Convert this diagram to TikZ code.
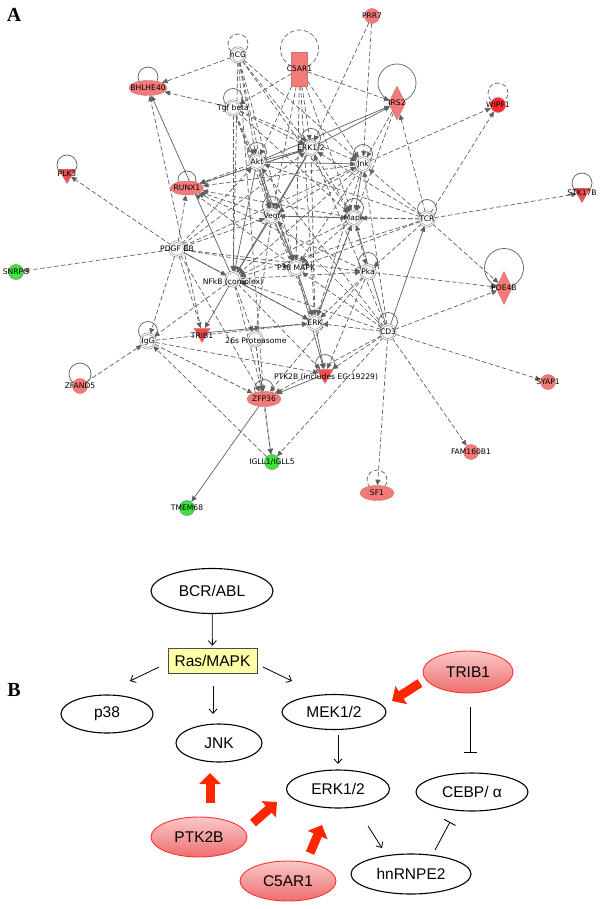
\documentclass[tikz,border=0pt]{standalone}
\usepackage{fontspec}
\setmainfont{Liberation Sans}
\newfontfamily\dvs{DejaVu Sans}
\newfontfamily\tms{Liberation Serif}
\usetikzlibrary{arrows.meta,shapes.geometric,calc}
\pgfdeclarelayer{bg}
\pgfsetlayers{bg,main}
\definecolor{salmon}{RGB}{244,122,122}
\definecolor{salmonedge}{RGB}{205,115,115}
\definecolor{trired}{RGB}{240,78,78}
\definecolor{brightred}{RGB}{255,45,45}
\definecolor{ipagreen}{RGB}{60,228,60}
\definecolor{edgegray}{RGB}{96,96,96}
\definecolor{hubgray}{RGB}{115,115,115}
\definecolor{boxyellow}{RGB}{255,255,165}
\definecolor{arrowred}{RGB}{255,38,0}
\definecolor{pinktop}{RGB}{250,200,200}
\definecolor{pinkbot}{RGB}{238,110,110}
\definecolor{pinkedge}{RGB}{255,50,50}
\begin{document}
\begin{tikzpicture}[x=1pt,y=-1pt,
  hub/.style={circle, draw=hubgray, line width=0.5pt, double=white, double distance=1.2pt, fill=white, minimum size=14.5pt, inner sep=0pt},
  lbl/.style={font=\dvs\fontsize{7.6}{8}\selectfont, inner sep=0pt, text=black},
  redell/.style={ellipse, fill=salmon, draw=salmonedge, line width=0.4pt, inner sep=0pt},
  redcirc/.style={circle, fill=salmon, draw=salmonedge, line width=0.4pt, minimum size=15pt, inner sep=0pt},
  grncirc/.style={circle, fill=ipagreen, draw=hubgray, line width=0.4pt, minimum size=15pt, inner sep=0pt},
  redtri/.style={regular polygon, regular polygon sides=3, shape border rotate=180, fill=trired, draw=salmonedge, line width=0.4pt, minimum size=19pt, inner sep=0pt},
  reddia/.style={diamond, fill=salmon, draw=salmonedge, line width=0.4pt, minimum width=17pt, minimum height=34pt, inner sep=0pt},
  ed/.style={edgegray, line width=0.7pt, dash pattern=on 4.5pt off 2.5pt, -{Triangle[length=5.5pt,width=5pt]}},
  es/.style={edgegray, line width=0.7pt, -{Triangle[length=5.5pt,width=5pt]}},
  lpd/.style={edgegray, line width=0.7pt, dash pattern=on 4.5pt off 2.5pt},
  lps/.style={edgegray, line width=0.7pt},
  bfont/.style={font=\fontsize{15.5}{17}\selectfont},
  bell/.style={ellipse, draw=black, line width=1.1pt, inner sep=0pt, fill=white, bfont},
  rell/.style={ellipse, draw=pinkedge, line width=0.9pt, top color=pinktop, bottom color=pinkbot, inner sep=0pt, bfont},
  thinarr/.style={black, line width=0.8pt, -{Straight Barb[length=4.5pt,width=8pt]}},
  inh/.style={black, line width=0.8pt, -{Bar[width=13pt,line width=0.9pt]}},
  bigarr/.style={arrowred, line width=9pt, -{Triangle[length=11pt,width=21pt]}},
  panel/.style={font=\tms\bfseries\fontsize{20}{22}\selectfont, inner sep=0pt}
]
\useasboundingbox (0,0) rectangle (600,909);
\begin{pgfonlayer}{bg}
\fill[white] (0,0) rectangle (600,909);
\end{pgfonlayer}

% ---------- Panel A ----------
\node[panel] (labA) at (14,15) {A};

\foreach \n/\x/\y in {hcg/238/55, tgf/233/108, akt/257/162, erk12/311/148, jnk/363/164, vegf/272/216, mapk/354/218, tcr/427/219, pdgf/177/249, nfkb/233/279, p38/296/268, pka/368/272, erk/315/323, cd3/388/332, prot/255/339, igg/148/341}
  \node[hub] (\n) at (\x,\y) {};

\node[rectangle, fill=salmon, draw=salmonedge, line width=0.4pt, minimum width=16pt, minimum height=34pt, inner sep=0pt] (c5ar1) at (299.5,69) {};
\node[redcirc] (prr7) at (372,16) {};
\node[redell, minimum width=38pt, minimum height=15pt] (bhlhe) at (148,88) {};
\node[reddia] (irs2) at (397,103) {};
\node[circle, fill=brightred, draw=salmonedge, line width=0.4pt, minimum size=15pt, inner sep=0pt] (wipf1) at (498,105) {};
\node[redtri] (plk3) at (67,174) {};
\node[redell, minimum width=33pt, minimum height=14pt] (runx1) at (187,188) {};
\node[redtri] (stk17b) at (582,193) {};
\node[grncirc] (snrpg) at (16,272) {};
\node[reddia, minimum width=16pt, minimum height=33pt] (pde4b) at (504,288) {};
\node[redtri] (trib1) at (202,333) {};
\node[redtri] (ptk2b) at (325,374) {};
\node[redell, minimum width=34pt, minimum height=15pt] (zfp36) at (264,399) {};
\node[redcirc] (zfand5) at (80,386) {};
\node[redcirc] (syap1) at (548,382) {};
\node[redcirc] (fam) at (471,452) {};
\node[grncirc] (igll) at (272,462) {};
\node[redell, minimum width=34pt, minimum height=15pt] (sf1) at (377,493) {};
\node[grncirc] (tmem) at (187,508) {};

\begin{pgfonlayer}{bg}
% self loops
\draw[lpd] ([yshift=11pt]hcg.center) circle (10pt);
\foreach \n in {tgf, akt, jnk, vegf, mapk, tcr, pka, igg, cd3, erk12, zfp36, ptk2b}
  \draw[lps] ([yshift=10pt]\n.center) circle (9.5pt);
\draw[lpd] ([yshift=20pt]c5ar1.center) circle (19pt);
\draw[lps] ([yshift=11pt]bhlhe.center) circle (10pt);
\draw[lps] ([yshift=20pt]irs2.center) circle (19pt);
\draw[lpd] ([yshift=12pt]wipf1.center) circle (10pt);
\draw[lps] ([yshift=9pt]plk3.center) circle (10pt);
\draw[lps] ([yshift=8pt]runx1.center) circle (9pt);
\draw[lps] ([yshift=10pt]stk17b.center) circle (10pt);
\draw[lps] ([yshift=20pt]pde4b.center) circle (19.5pt);
\draw[lps] ([yshift=12pt]zfand5.center) circle (11pt);
\draw[lpd] ([yshift=13pt]sf1.center) circle (10pt);

% dashed edges
\foreach \a/\b in {hcg/bhlhe, tgf/bhlhe, c5ar1/tgf, c5ar1/irs2, prr7/erk12, prr7/jnk, irs2/jnk, irs2/mapk, tcr/irs2, jnk/wipf1, tcr/wipf1, pdgf/plk3, pdgf/snrpg, tcr/stk17b, tcr/pde4b, pka/pde4b, cd3/pde4b, cd3/syap1, cd3/fam, cd3/sf1, cd3/igll, zfp36/igll, zfand5/igg, igg/ptk2b, igg/zfp36, igll/igg, cd3/ptk2b, cd3/erk,
 hcg/akt, hcg/erk12, hcg/vegf, hcg/jnk, hcg/p38, hcg/nfkb, hcg/zfp36, hcg/mapk,
 tgf/akt, tgf/vegf, tgf/erk12, tgf/p38, tgf/nfkb, tgf/mapk, tgf/jnk,
 c5ar1/akt, c5ar1/erk12, c5ar1/jnk, c5ar1/vegf, c5ar1/mapk, c5ar1/p38, c5ar1/erk,
 trib1/bhlhe,
 akt/runx1, erk12/runx1, jnk/runx1, vegf/runx1, mapk/runx1, pka/runx1, p38/runx1,
 erk12/mapk, erk12/erk, jnk/vegf, jnk/p38, jnk/nfkb, jnk/erk,
 tcr/jnk, tcr/akt, tcr/erk12, tcr/vegf, tcr/mapk, tcr/nfkb, tcr/p38, tcr/pka,
 pdgf/akt, pdgf/vegf, pdgf/erk12, pdgf/runx1, pdgf/p38, pdgf/pka, pdgf/erk, pdgf/igg, pdgf/trib1, pdgf/zfp36, pdgf/jnk,
 nfkb/pka, nfkb/igg, nfkb/zfp36, nfkb/ptk2b, nfkb/prot,
 mapk/p38, mapk/pka, mapk/erk, mapk/nfkb,
 pka/erk, pka/ptk2b, pka/zfp36,
 cd3/akt, cd3/vegf, cd3/erk12, cd3/nfkb, cd3/jnk, cd3/zfp36, cd3/p38,
 prot/zfp36, prot/igll, igg/erk, vegf/erk, vegf/prot}
  \draw[ed] (\a) -- (\b);

% solid edges
\foreach \a/\b in {nfkb/bhlhe, akt/irs2, erk12/irs2, akt/erk12, akt/jnk, akt/vegf, akt/nfkb, akt/p38, erk12/nfkb, jnk/mapk, vegf/mapk, vegf/p38, vegf/nfkb, erk12/vegf, p38/erk, p38/ptk2b, nfkb/erk, nfkb/trib1, trib1/erk, erk/ptk2b, ptk2b/zfp36, zfp36/tmem, cd3/tcr, runx1/erk12, pdgf/nfkb, erk/mapk, cd3/mapk}
  \draw[es] (\a) -- (\b);
\end{pgfonlayer}

% labels of panel A
\foreach \n/\t in {hcg/hCG, tgf/Tgf beta, akt/Akt, jnk/Jnk, vegf/Vegf, mapk/Mapk, tcr/TCR, pdgf/PDGF BB, p38/P38 MAPK, pka/Pka, erk/ERK, cd3/CD3, igg/IgG, c5ar1/C5AR1, prr7/PRR7, bhlhe/BHLHE40, irs2/IRS2, wipf1/WIPF1, plk3/PLK3, runx1/RUNX1, stk17b/STK17B, snrpg/SNRPG, pde4b/PDE4B, zfp36/ZFP36, zfand5/ZFAND5, syap1/SYAP1, fam/FAM160B1, sf1/SF1, tmem/TMEM68}
  \node[lbl] (\n-t) at (\n) {\t};
\node[lbl] (erk12-t) at (erk12) {ERK1/2};
\node[lbl] (nfkb-t) at (233,282) {NFkB (complex)};
\node[lbl] (prot-t) at (256,341) {26s Proteasome};
\node[lbl] (trib1-t) at (202,336) {TRIB1};
\node[lbl] (ptk2b-t) at (326,377) {PTK2B (includes EG:19229)};
\node[lbl] (igll-t) at (igll) {IGLL1/IGLL5};

% ---------- Panel B ----------
\node[panel] (labB) at (14,690) {B};

\node[bell, minimum width=122pt, minimum height=45pt] (bcr) at (212,591) {BCR/ABL};
\node[rectangle, draw=black!70, line width=0.6pt, fill=boxyellow, minimum width=89pt, minimum height=25pt, inner sep=0pt, bfont] (ras) at (212.5,660.5) {Ras/MAPK};
\node[bell, minimum width=92pt, minimum height=38pt] (p38B) at (107,714) {p38};
\node[bell, minimum width=86pt, minimum height=38pt] (jnkB) at (219,743) {JNK};
\node[bell, minimum width=104pt, minimum height=35pt] (mekB) at (334,712) {MEK1/2};
\node[bell, minimum width=103pt, minimum height=38pt] (erkB) at (338,789) {ERK1/2};
\node[bell, minimum width=112pt, minimum height=38pt] (cebpB) at (472,792) {CEBP/ α};
\node[bell, minimum width=120pt, minimum height=40pt] (hnrnpB) at (411,874) {hnRNPE2};
\node[rell, minimum width=90pt, minimum height=42pt] (trib1B) at (468,672) {TRIB1};
\node[rell, minimum width=96pt, minimum height=40pt] (ptk2bB) at (199,837) {PTK2B};
\node[rell, minimum width=96pt, minimum height=40pt] (c5ar1B) at (288,881) {C5AR1};

\coordinate (rp1) at (159,667); \coordinate (rp2) at (130,681);
\coordinate (rj1) at (213,686); \coordinate (rj2) at (213,714);
\coordinate (rm1) at (263,667); \coordinate (rm2) at (292,681);
\coordinate (me1) at (338,735); \coordinate (me2) at (338,764);
\coordinate (eh1) at (368,826); \coordinate (eh2) at (382,848);
\coordinate (tc1) at (470,707); \coordinate (tc2) at (470,753);
\coordinate (hc1) at (435,850); \coordinate (hc2) at (450,822);
\coordinate (tm1) at (420,683); \coordinate (tm2) at (392,701);
\coordinate (pj1) at (210,803); \coordinate (pj2) at (210,773);
\coordinate (pe1) at (253,823); \coordinate (pe2) at (277,802);
\coordinate (ce1) at (310,853); \coordinate (ce2) at (322,825);

\draw[thinarr, shorten >=2pt] (bcr) -- (ras);
\draw[thinarr] (rp1) -- (rp2);
\draw[thinarr] (rj1) -- (rj2);
\draw[thinarr] (rm1) -- (rm2);
\draw[thinarr] (me1) -- (me2);
\draw[thinarr] (eh1) -- (eh2);
\draw[inh] (tc1) -- (tc2);
\draw[inh] (hc1) -- (hc2);
\draw[bigarr] (tm1) -- (tm2);
\draw[bigarr] (pj1) -- (pj2);
\draw[bigarr] (pe1) -- (pe2);
\draw[bigarr] (ce1) -- (ce2);
\end{tikzpicture}
\end{document}
